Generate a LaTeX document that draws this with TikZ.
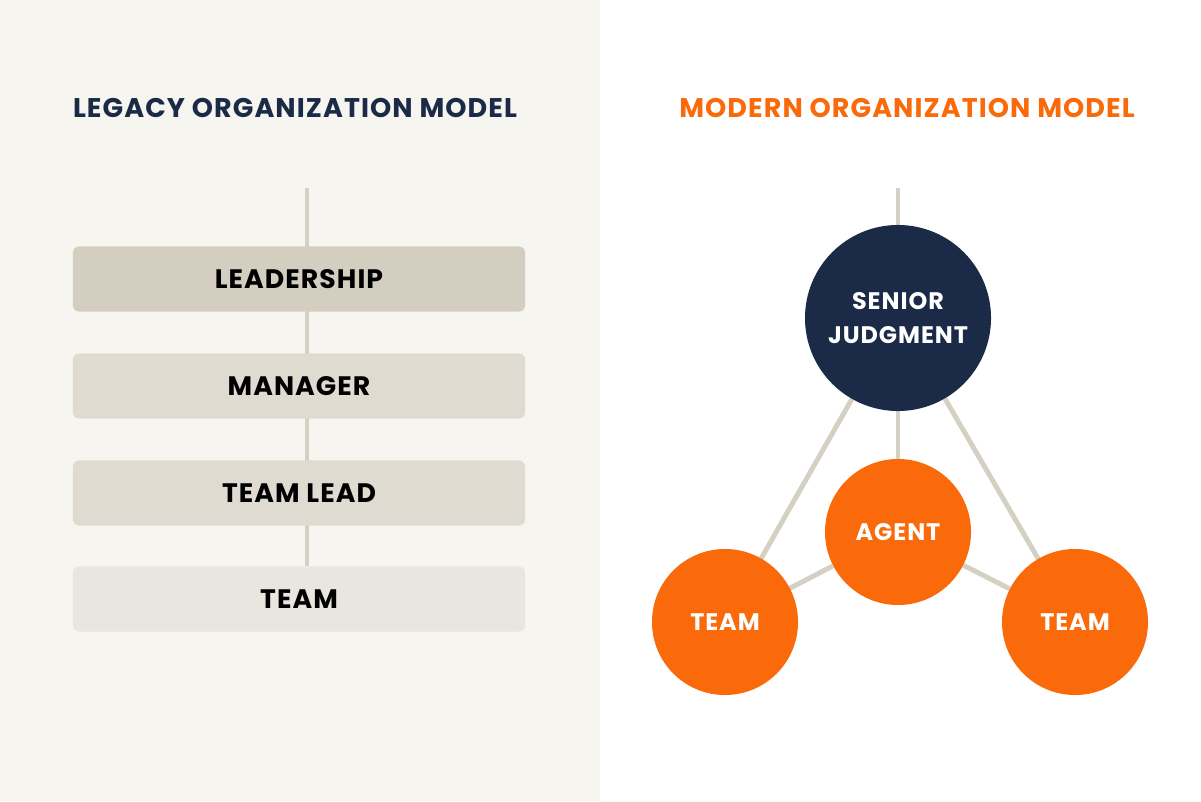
\documentclass[tikz,border=0pt]{standalone}
\usepackage{fontspec}
\setmainfont{Poppins}[LetterSpace=4]
\usetikzlibrary{positioning}
\definecolor{navy}{HTML}{1B2A47}
\definecolor{orng}{HTML}{FA6A0A}
\definecolor{paper}{HTML}{F6F5EF}
\definecolor{rail}{HTML}{D4D0C4}
\definecolor{levA}{HTML}{D3CEC0}
\definecolor{levB}{HTML}{DFDBD0}
\definecolor{levC}{HTML}{E8E6DE}
\pgfdeclarelayer{bg}
\pgfsetlayers{bg,main}
\tikzstyle{title}=[font=\fontsize{19.2}{22}\selectfont\bfseries]
\tikzstyle{level}=[rectangle,rounded corners=0.15cm,minimum width=11.3cm,minimum height=1.625cm,inner sep=0pt,font=\fontsize{19}{22}\selectfont\bfseries,text=black]
\tikzstyle{bigvertex}=[circle,fill=navy,minimum size=4.65cm,inner sep=0pt,text=white,align=center,font=\fontsize{17}{24}\selectfont\bfseries]
\tikzstyle{vertex}=[circle,fill=orng,minimum size=3.65cm,inner sep=0pt,text=white,font=\fontsize{17}{20}\selectfont\bfseries]
\tikzstyle{link}=[draw=rail,line width=3.5pt]

\begin{document}
\begin{tikzpicture}[x=0.025cm,y=-0.025cm]

  \useasboundingbox (0,0) rectangle (1201,801);
  \begin{pgfonlayer}{bg}
    \fill[paper] (0,0) rectangle (600,801);
  \end{pgfonlayer}

  \node[title,navy] (legacy) at (295,108) {LEGACY ORGANIZATION MODEL};
  \node[title,orng] (modern) at (907,108) {MODERN ORGANIZATION MODEL};

  % legacy ladder
  \foreach \y/\name/\label/\shade in {279/lead/LEADERSHIP/levA, 386/mgr/MANAGER/levB, 493/tl/TEAM LEAD/levB, 599/team/TEAM/levC}
     \node[level,fill=\shade] (\name) at (299,\y) {\label};

  \coordinate (ltop) at (307,188);
  \begin{pgfonlayer}{bg}
    \draw[link] (ltop) -- (ltop |- team.north);
  \end{pgfonlayer}

  % modern triangle
  \node[bigvertex] (senior) at (898,318) {SENIOR\\JUDGMENT};
  \node[vertex] (agent) at (898,532) {AGENT};
  \node[vertex] (teamL) at (725,622) {TEAM};
  \node[vertex] (teamR) at (1075,622) {TEAM};

  \coordinate (rtop) at (898,188);
  \begin{pgfonlayer}{bg}
    \foreach \source/\dest in {rtop/senior, senior/agent, senior/teamL, senior/teamR, agent/teamL, agent/teamR}
       \draw[link] (\source) -- (\dest.center);
  \end{pgfonlayer}

\end{tikzpicture}
\end{document}
